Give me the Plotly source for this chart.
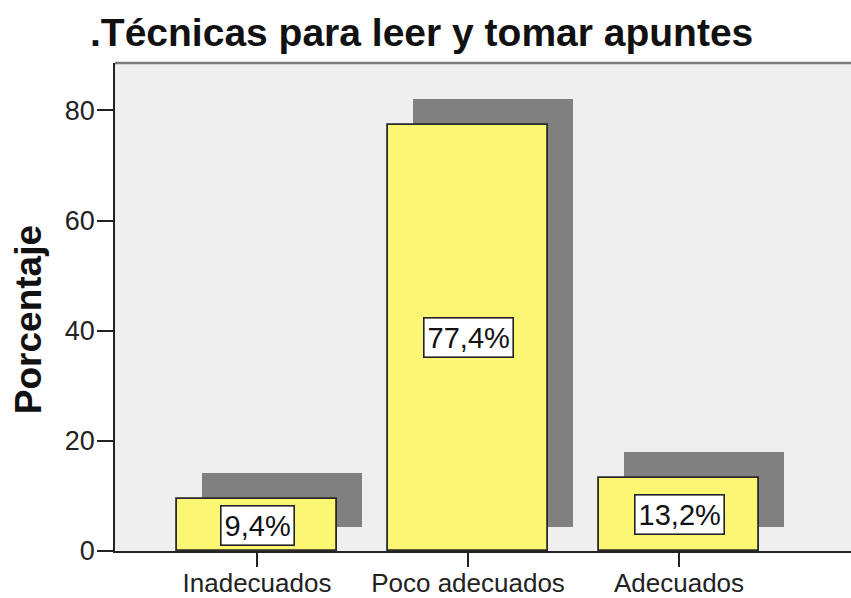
import plotly.graph_objects as go

# ---- data ----
categories = ["Inadecuados", "Poco adecuados", "Adecuados"]
percentages = [9.4, 77.4, 13.2]
value_labels = ["9,4%", "77,4%", "13,2%"]
y_tickvals = [0, 20, 40, 60, 80]
title_text = ".Técnicas para leer y tomar apuntes"
y_title = "Porcentaje"

# ---- style constants ----
FONT = "Liberation Sans, Arial, sans-serif"
BAR_COLOR = "#FBF673"
SHADOW_COLOR = "#808080"
BG = "#EFEFEF"
BAR_W = 0.758
SHADOW_DX = 0.118      # category units
SHADOW_BASE = 4.3      # percentage units
SHADOW_EXTRA = 0.4

xs = list(range(len(categories)))

fig = go.Figure()

# drop shadows
fig.add_trace(go.Bar(
    x=[x + SHADOW_DX for x in xs],
    y=[v + SHADOW_EXTRA for v in percentages],
    base=[SHADOW_BASE] * len(xs),
    width=BAR_W,
    marker=dict(color=SHADOW_COLOR, line=dict(width=0)),
    hoverinfo="skip",
    showlegend=False,
))

# main bars
fig.add_trace(go.Bar(
    x=xs,
    y=percentages,
    width=BAR_W,
    marker=dict(color=BAR_COLOR, line=dict(color="#2a2a2a", width=1.8)),
    showlegend=False,
))

# value labels
for x, v, t in zip(xs, percentages, value_labels):
    fig.add_annotation(
        x=x, y=v / 2, xref="x", yref="y",
        text=t, showarrow=False,
        font=dict(family=FONT, size=29, color="#111"),
        bgcolor="white", bordercolor="#222", borderwidth=1.6, borderpad=3,
        xanchor="center", yanchor="middle",
    )

# y-axis title
fig.add_annotation(
    x=0, xref="paper", xshift=-87, xanchor="center",
    y=0.473, yref="paper", yanchor="middle",
    text="<b>" + y_title + "</b>", textangle=-90, showarrow=False,
    font=dict(family=FONT, size=37, color="#111"),
)

# gray top frame line
fig.add_shape(type="line", xref="paper", yref="paper",
              x0=0, x1=1, y0=1, y1=1,
              line=dict(color="#7a7a7a", width=2.5))

fig.update_layout(
    width=851, height=598,
    margin=dict(l=115, r=0, t=63, b=47, autoexpand=False),
    paper_bgcolor="white",
    plot_bgcolor=BG,
    barmode="overlay",
    bargap=0,
    title=dict(
        text="<b>" + title_text + "</b>",
        x=90 / 851, xanchor="left", xref="container",
        y=1 - 32 / 598, yanchor="middle", yref="container",
        font=dict(family=FONT, size=39, color="#111"),
    ),
    xaxis=dict(
        range=[-0.673, 2.815],
        tickvals=xs, ticktext=categories,
        ticks="outside", ticklen=14, tickwidth=1.5, tickcolor="#222",
        ticklabelstandoff=-6,
        automargin=False,
        showline=True, linecolor="#222", linewidth=1.5,
        showgrid=False, zeroline=False,
        tickfont=dict(family=FONT, size=26, color="#222"),
    ),
    yaxis=dict(
        range=[0, 88.6],
        tickvals=y_tickvals,
        ticks="outside", ticklen=16, tickwidth=1.5, tickcolor="#222",
        ticklabelstandoff=-3,
        automargin=False,
        showline=True, linecolor="#222", linewidth=1.5,
        showgrid=False, zeroline=False,
        tickfont=dict(family=FONT, size=27, color="#222"),
    ),
)

fig.write_html(
    "out.html",
    config={"displayModeBar": False},
    post_script="document.body.style.margin='0';document.body.style.padding='0';",
)
